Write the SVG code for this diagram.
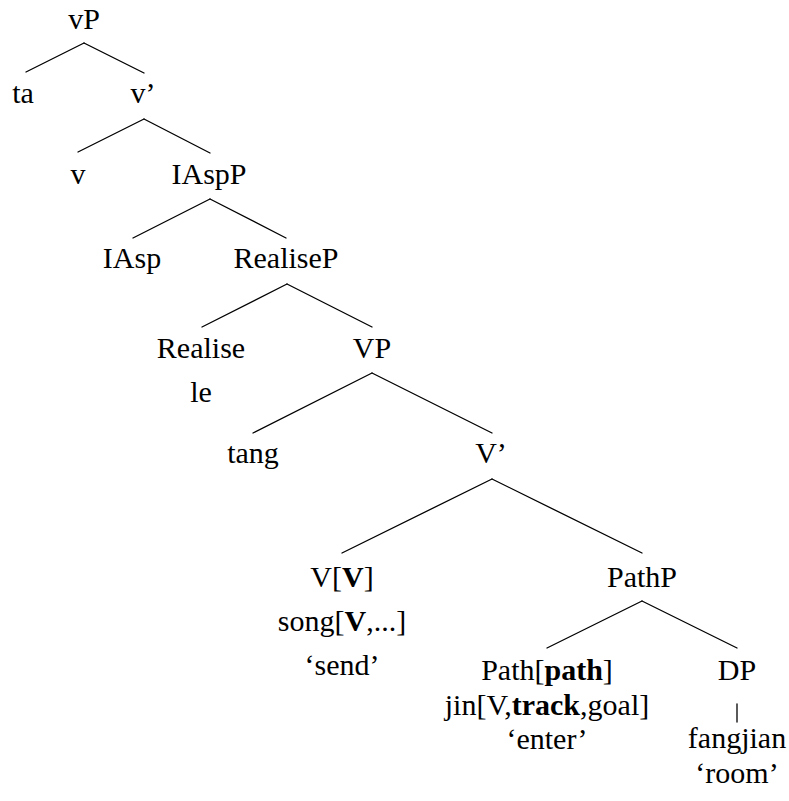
<svg xmlns="http://www.w3.org/2000/svg" width="789" height="801" viewBox="0 0 789 801">
<style>
text { font-size: 30px; fill: #000; text-anchor: middle; }
.b { font-weight: bold; }
#connectors line { stroke: #000; stroke-width: 1.3; stroke-linecap: round; }
</style>
<rect width="789" height="801" fill="#fff"/>
<g id="connectors">
  <line x1="84" y1="43" x2="26" y2="72"/>
  <line x1="84" y1="43" x2="144" y2="73"/>
  <line x1="144" y1="119" x2="78" y2="152"/>
  <line x1="144" y1="119" x2="210" y2="153"/>
  <line x1="210" y1="199" x2="133" y2="238"/>
  <line x1="210" y1="199" x2="286" y2="238"/>
  <line x1="287" y1="284" x2="202" y2="327"/>
  <line x1="287" y1="284" x2="372" y2="327"/>
  <line x1="372" y1="373" x2="253" y2="433"/>
  <line x1="372" y1="373" x2="492" y2="433"/>
  <line x1="492" y1="479" x2="342" y2="553"/>
  <line x1="492" y1="479" x2="642" y2="553"/>
  <line x1="642" y1="601" x2="547" y2="648"/>
  <line x1="642" y1="601" x2="737" y2="648"/>
  <line x1="737" y1="704" x2="737" y2="722"/>
</g>
<g id="vP"><text x="84" y="29" font-family="Liberation Serif" font-style="normal">vP</text></g>
<g id="ta"><text x="23" y="103" font-family="Liberation Serif" font-style="normal">ta</text></g>
<g id="v-bar"><text x="143" y="103" font-family="Liberation Serif" font-style="normal">v’</text></g>
<g id="v"><text x="78" y="184" font-family="Liberation Serif" font-style="normal">v</text></g>
<g id="IAspP"><text x="209" y="184" font-family="Liberation Serif" font-style="normal">IAspP</text></g>
<g id="IAsp"><text x="132" y="268" font-family="Liberation Serif" font-style="normal">IAsp</text></g>
<g id="RealiseP"><text x="286" y="268" font-family="Liberation Serif" font-style="normal">RealiseP</text></g>
<g id="Realise"><text x="201" y="358" font-family="Liberation Serif" font-style="normal">Realise</text><text x="201" y="402" font-family="Liberation Serif" font-style="normal">le</text></g>
<g id="VP"><text x="372" y="358" font-family="Liberation Serif" font-style="normal">VP</text></g>
<g id="tang"><text x="253" y="463" font-family="Liberation Serif" font-style="normal">tang</text></g>
<g id="V-bar"><text x="491" y="463" font-family="Liberation Serif" font-style="normal">V’</text></g>
<g id="V"><text x="342" y="587" font-family="Liberation Serif" font-style="normal">V[<tspan class="b">V</tspan>]</text><text x="342" y="631" font-family="Liberation Serif" font-style="normal">song[<tspan class="b">V</tspan>,...]</text><text x="342" y="675" font-family="Liberation Serif" font-style="normal">‘send’</text></g>
<g id="PathP"><text x="642" y="587" font-family="Liberation Serif" font-style="normal">PathP</text></g>
<g id="Path"><text x="547" y="680" font-family="Liberation Serif" font-style="normal">Path[<tspan class="b">path</tspan>]</text><text x="547" y="715" font-family="Liberation Serif" font-style="normal">jin[V,<tspan class="b">track</tspan>,goal]</text><text x="547" y="749" font-family="Liberation Serif" font-style="normal">‘enter’</text></g>
<g id="DP"><text x="737" y="680" font-family="Liberation Serif" font-style="normal">DP</text><text x="737" y="748" font-family="Liberation Serif" font-style="normal">fangjian</text><text x="737" y="783" font-family="Liberation Serif" font-style="normal">‘room’</text></g>
</svg>
